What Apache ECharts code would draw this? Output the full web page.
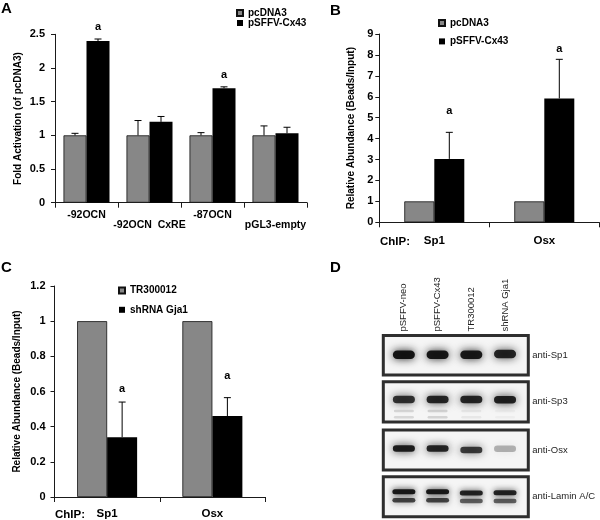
<!DOCTYPE html>
<html><head><meta charset="utf-8">
<script src="https://cdn.jsdelivr.net/npm/echarts@6/dist/echarts.min.js"></script>
<style>html,body{margin:0;padding:0;background:#fff}#c{width:600px;height:520px}</style>
</head><body><div id="c"></div>
<script>
// ---------- Panel A ----------
const catA = ['-92OCN', '-92OCN  CxRE', '-87OCN', 'pGL3-empty'];
const namesAB = ['pcDNA3', 'pSFFV-Cx43'];
const aCtrl = [1.0, 1.0, 1.0, 1.0];
const aCtrlErr = [0.03, 0.22, 0.04, 0.14];
const aCx43 = [2.40, 1.20, 1.70, 1.03];
const aCx43Err = [0.03, 0.08, 0.02, 0.09];
const aSig = ['a', '', 'a', ''];
// ---------- Panel B ----------
const catB = ['Sp1', 'Osx'];
const bCtrl = [1.0, 1.0];
const bCtrlErr = [0, 0];
const bCx43 = [3.03, 5.92];
const bCx43Err = [1.27, 1.87];
const bSig = ['a', 'a'];
// ---------- Panel C ----------
const catC = ['Sp1', 'Osx'];
const namesC = ['TR300012', 'shRNA Gja1'];
const cCtrl = [1.0, 1.0];
const cCtrlErr = [0, 0];
const cSh = [0.34, 0.46];
const cShErr = [0.20, 0.105];
const cSig = ['a', 'a'];
// ---------- Panel D (western blot) ----------
const lanes = ['pSFFV-neo', 'pSFFV-Cx43', 'TR300012', 'shRNA Gja1'];
const antibodies = ['anti-Sp1', 'anti-Sp3', 'anti-Osx', 'anti-Lamin A/C'];
const sp1Density = [0.95, 0.93, 0.92, 0.86];
const sp1Migration = [0.51, 0.51, 0.51, 0.53];
const sp3Density = [0.80, 0.85, 0.85, 0.88];
const sp3Migration = [0.56, 0.56, 0.56, 0.55];
const sp3MinorDensity = [0.12, 0.14, 0.06, 0.03];
const sp3Minor1Migration = [0.27, 0.27, 0.27, 0.27];
const sp3Minor2Migration = [0.12, 0.12, 0.12, 0.12];
const osxDensity = [0.90, 0.86, 0.76, 0.28];
const osxMigration = [0.54, 0.54, 0.50, 0.53];
const laminUpperDensity = [0.92, 0.92, 0.86, 0.86];
const laminUpperMigration = [0.625, 0.625, 0.59, 0.60];
const laminLowerDensity = [0.72, 0.72, 0.60, 0.60];
const laminLowerMigration = [0.41, 0.41, 0.39, 0.39];

const FONT = 'Liberation Sans';
const GRAY = '#878787';
const AX = '#1a1a1a';

function errRender(offsetPx, capHalf, sigArr, sigOff) {
  return function (params, api) {
    const cat = api.value(0);
    const base = api.coord([cat, api.value(1)]);
    const top = api.coord([cat, api.value(2)]);
    const x = base[0] + offsetPx;
    const ch = [];
    if (api.value(2) > api.value(1)) {
      ch.push({type: 'line', shape: {x1: x, y1: base[1], x2: x, y2: top[1]}, style: {stroke: '#000', lineWidth: 1}});
      ch.push({type: 'line', shape: {x1: x - capHalf, y1: top[1], x2: x + capHalf, y2: top[1]}, style: {stroke: '#000', lineWidth: 1}});
    }
    const s = sigArr ? sigArr[params.dataIndex] : '';
    if (s) {
      ch.push({type: 'text', style: {text: s, x: x, y: top[1] - sigOff[params.dataIndex], align: 'center', verticalAlign: 'middle',
        font: 'bold 11px "' + FONT + '"', fill: '#000'}});
    }
    return {type: 'group', children: ch};
  };
}
function errData(vals, errs) { return vals.map((v, i) => [i, v, v + errs[i]]); }

function bandRender(h, w, blur) {
  return function (params, api) {
    const p = api.coord([api.value(0), api.value(1)]);
    const d = api.value(2);
    const c = 'rgba(12,12,12,' + d + ')';
    return {type: 'rect', shape: {x: p[0] - w / 2, y: p[1] - h / 2, width: w, height: h, r: h / 2},
      style: {fill: c, shadowBlur: blur, shadowColor: c}};
  };
}
function bandData(mig, dens) { return mig.map((m, i) => [i, m, dens[i]]); }

const catAxis = (gi, data, extra) => Object.assign({
  type: 'category', gridIndex: gi, data: data,
  axisLine: {lineStyle: {color: AX, width: 1}},
  axisTick: {show: true, length: 5, lineStyle: {color: AX}},
  axisLabel: {color: '#000', fontWeight: 'bold', fontSize: 11.5, fontFamily: FONT, interval: 0}
}, extra);
const valAxis = (gi, min, max, step, name, gap, margin) => ({
  type: 'value', gridIndex: gi, min: min, max: max, interval: step,
  splitLine: {show: false},
  axisLine: {show: true, lineStyle: {color: AX, width: 1}},
  axisTick: {show: true, length: 4, lineStyle: {color: AX}},
  axisLabel: {color: '#000', fontWeight: 'bold', fontSize: 11, fontFamily: FONT, margin: margin},
  name: name, nameLocation: 'middle', nameGap: gap,
  nameTextStyle: {color: '#000', fontWeight: 'bold', fontSize: 10, fontFamily: FONT}
});

const blotTops = [335.5, 381.7, 430, 476.7];
const blotHeights = [39.5, 40.3, 40, 40];

const grids = [
  {left: 55, top: 34.3, width: 252, height: 168.4},
  {left: 379.3, top: 34, width: 220, height: 188.3},
  {left: 54.5, top: 286, width: 210.5, height: 212.7}
];
blotTops.forEach((t, k) => grids.push({left: 383.3, top: t, width: 145, height: blotHeights[k], show: true,
  backgroundColor: '#f5f5f5', borderColor: '#2e2e2e', borderWidth: 3}));

const xAxes = [
  catAxis(0, catA, {axisLabel: {color: '#000', fontWeight: 'bold', fontSize: 10.5, fontFamily: FONT, interval: 0, margin: 7,
    lineHeight: 10, formatter: (v, i) => (i % 2 ? '\n' + v : v)}}),
  catAxis(1, catB, {axisLabel: {color: '#000', fontWeight: 'bold', fontSize: 11.5, fontFamily: FONT, interval: 0, margin: 13}}),
  catAxis(2, catC, {axisLabel: {color: '#000', fontWeight: 'bold', fontSize: 11.5, fontFamily: FONT, interval: 0, margin: 11}})
];
const yAxes = [
  valAxis(0, 0, 2.5, 0.5, 'Fold Activation (of pcDNA3)', 32, 10),
  valAxis(1, 0, 9, 1, 'Relative Abundance (Beads/Input)', 23, 6),
  valAxis(2, 0, 1.2, 0.2, 'Relative Abundance (Beads/Input)', 32, 9)
];
for (let k = 0; k < 4; k++) {
  xAxes.push({type: 'value', gridIndex: 3 + k, min: -0.61, max: 3.69, position: 'top',
    splitLine: {show: false}, axisLine: {show: false}, axisTick: {show: false},
    axisLabel: k === 0 ? {show: true, customValues: [0, 1, 2, 3], formatter: v => lanes[Math.round(v)], rotate: 90, margin: 4,
      color: '#1e1e1e', fontSize: 9.5, fontFamily: FONT} : {show: false}});
  yAxes.push({type: 'value', gridIndex: 3 + k, min: 0, max: 1, position: 'right',
    splitLine: {show: false}, axisLine: {show: false}, axisTick: {show: false},
    axisLabel: {show: true, customValues: [0.5], formatter: () => antibodies[k], margin: 4,
      color: '#1e1e1e', fontSize: 9.5, fontFamily: FONT}});
}

const barStyleGray = {color: GRAY, borderColor: '#111', borderWidth: 0.8};
const barStyleBlack = {color: '#000'};
const series = [
  {type: 'bar', name: namesAB[0], xAxisIndex: 0, yAxisIndex: 0, data: aCtrl, barWidth: 23, barGap: '0%', itemStyle: barStyleGray},
  {type: 'bar', name: namesAB[1], xAxisIndex: 0, yAxisIndex: 0, data: aCx43, barWidth: 23, barGap: '0%', itemStyle: barStyleBlack},
  {type: 'custom', xAxisIndex: 0, yAxisIndex: 0, data: errData(aCtrl, aCtrlErr), renderItem: errRender(-11.5, 3.5), z: 5},
  {type: 'custom', xAxisIndex: 0, yAxisIndex: 0, data: errData(aCx43, aCx43Err), renderItem: errRender(11.5, 3.5, aSig, [12, 0, 12, 0]), z: 5},

  {type: 'bar', name: namesAB[0], xAxisIndex: 1, yAxisIndex: 1, data: bCtrl, barWidth: 30, barGap: '0%', itemStyle: barStyleGray},
  {type: 'bar', name: namesAB[1], xAxisIndex: 1, yAxisIndex: 1, data: bCx43, barWidth: 30, barGap: '0%', itemStyle: barStyleBlack},
  {type: 'custom', xAxisIndex: 1, yAxisIndex: 1, data: errData(bCtrl, bCtrlErr), renderItem: errRender(-15, 3.5), z: 5},
  {type: 'custom', xAxisIndex: 1, yAxisIndex: 1, data: errData(bCx43, bCx43Err), renderItem: errRender(15, 3.5, bSig, [21, 10]), z: 5},

  {type: 'bar', name: namesC[0], xAxisIndex: 2, yAxisIndex: 2, data: cCtrl, barWidth: 30, barGap: '0%', itemStyle: barStyleGray},
  {type: 'bar', name: namesC[1], xAxisIndex: 2, yAxisIndex: 2, data: cSh, barWidth: 30, barGap: '0%', itemStyle: barStyleBlack},
  {type: 'custom', xAxisIndex: 2, yAxisIndex: 2, data: errData(cCtrl, cCtrlErr), renderItem: errRender(-15, 3.5), z: 5},
  {type: 'custom', xAxisIndex: 2, yAxisIndex: 2, data: errData(cSh, cShErr), renderItem: errRender(15, 3.5, cSig, [13, 22]), z: 5},

  {type: 'custom', xAxisIndex: 3, yAxisIndex: 3, data: bandData(sp1Migration, sp1Density), renderItem: bandRender(8.5, 22, 8)},
  {type: 'custom', xAxisIndex: 4, yAxisIndex: 4, data: bandData(sp3Migration, sp3Density), renderItem: bandRender(7.5, 22, 8)},
  {type: 'custom', xAxisIndex: 4, yAxisIndex: 4, data: bandData(sp3Minor1Migration, sp3MinorDensity), renderItem: bandRender(2.5, 20, 5)},
  {type: 'custom', xAxisIndex: 4, yAxisIndex: 4, data: bandData(sp3Minor2Migration, sp3MinorDensity), renderItem: bandRender(2.5, 20, 5)},
  {type: 'custom', xAxisIndex: 5, yAxisIndex: 5, data: bandData(osxMigration, osxDensity), renderItem: bandRender(6.5, 22, 8)},
  {type: 'custom', xAxisIndex: 6, yAxisIndex: 6, data: bandData(laminUpperMigration, laminUpperDensity), renderItem: bandRender(5, 23, 6)},
  {type: 'custom', xAxisIndex: 6, yAxisIndex: 6, data: bandData(laminLowerMigration, laminLowerDensity), renderItem: bandRender(4.5, 23, 6)}
];

const legendBase = {orient: 'vertical', icon: 'rect', itemWidth: 6, itemHeight: 6, selectedMode: false,
  textStyle: {color: '#000', fontWeight: 'bold', fontSize: 10, fontFamily: FONT, lineHeight: 10}};
const legends = [
  Object.assign({}, legendBase, {data: namesAB, left: 236, top: 8, itemGap: 0, padding: 0}),
  Object.assign({}, legendBase, {data: namesAB, left: 438, top: 18, itemGap: 8.4, padding: 0}),
  Object.assign({}, legendBase, {data: namesC, left: 118, top: 285.5, itemGap: 9.3, padding: 0})
];

const letter = (t, x, y) => ({type: 'text', left: x, top: y, style: {text: t, font: 'bold 15px "' + FONT + '"', fill: '#000'}});
const note = (t, x, y) => ({type: 'text', left: x, top: y, style: {text: t, font: 'bold 11.5px "' + FONT + '"', fill: '#000'}});

const chart = echarts.init(document.getElementById('c'), null, {renderer: 'canvas'});
chart.setOption({
  animation: false,
  backgroundColor: '#fff',
  textStyle: {fontFamily: FONT},
  grid: grids, xAxis: xAxes, yAxis: yAxes, series: series, legend: legends,
  graphic: [
    letter('A', 1, 1), letter('B', 330, 3), letter('C', 1, 260), letter('D', 330, 260),
    note('ChIP:', 380, 236), note('ChIP:', 55, 509)
  ]
});
</script></body></html>
